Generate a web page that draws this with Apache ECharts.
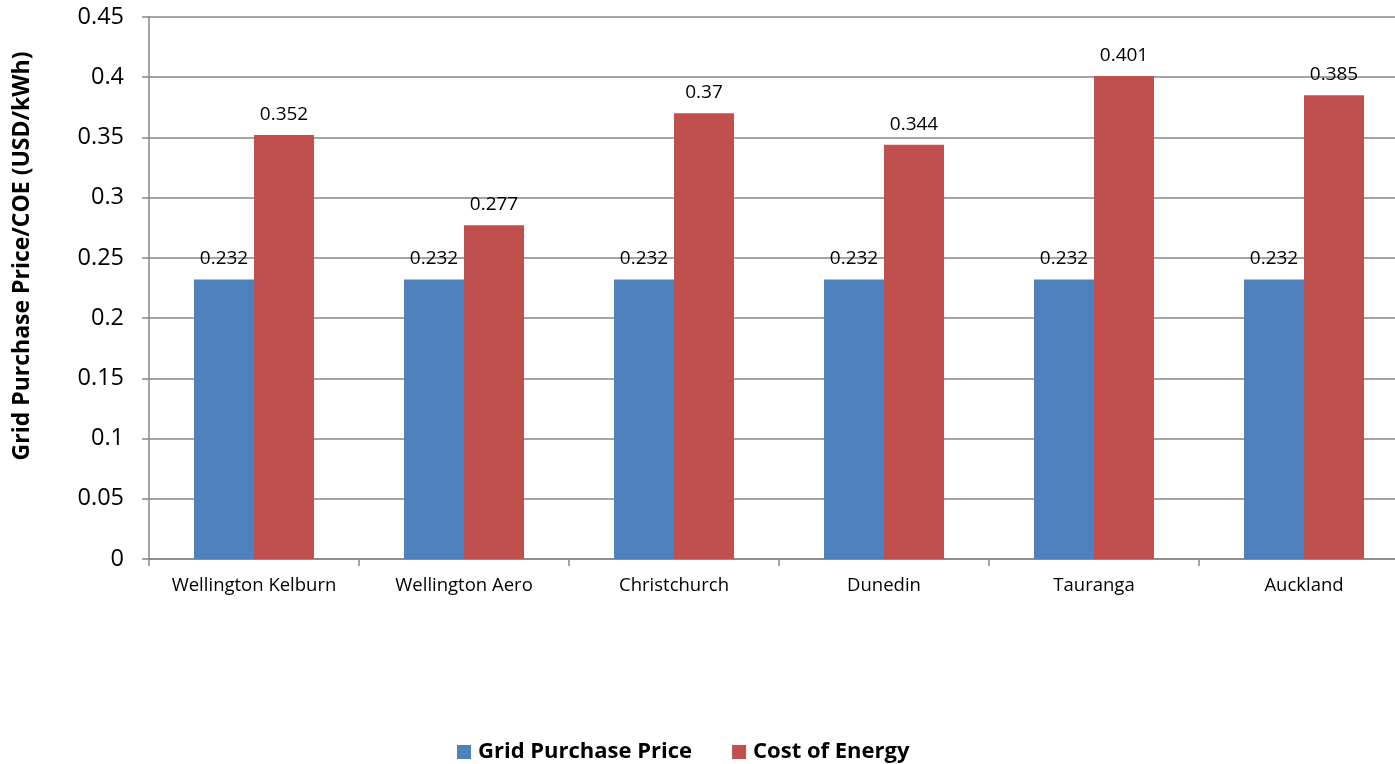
<!DOCTYPE html>
<html>
<head>
<meta charset="utf-8">
<script src="https://cdn.jsdelivr.net/npm/echarts@6/dist/echarts.min.js"></script>
<style>
html,body{margin:0;padding:0;background:#fff;}
#main{width:1395px;height:764px;}
</style>
</head>
<body>
<div id="main"></div>
<script>
var categories = ['Wellington Kelburn', 'Wellington Aero', 'Christchurch', 'Dunedin', 'Tauranga', 'Auckland'];
var gridPrice = [0.232, 0.232, 0.232, 0.232, 0.232, 0.232];
var costOfEnergy = [0.352, 0.277, 0.37, 0.344, 0.401, 0.385];
var seriesNames = ['Grid Purchase Price', 'Cost of Energy'];
var yTitle = 'Grid Purchase Price/COE (USD/kWh)';

var font = "'Open Sans', 'Liberation Sans', sans-serif";
var myChart = echarts.init(document.getElementById('main'));

var option = {
    animation: false,
    textStyle: { fontFamily: font },
    grid: { left: 149, top: 17, width: 1260, height: 542, containLabel: false, outerBoundsMode: 'none' },
    legend: {
        bottom: -4,
        left: 452,
        itemWidth: 14,
        itemHeight: 14,
        itemGap: 40,
        icon: 'rect',
        data: seriesNames,
        textStyle: { fontSize: 22, fontWeight: 'bold', color: '#000', fontFamily: font, padding: [0, 0, 0, 2] }
    },
    graphic: [{
        type: 'text',
        x: 22,
        y: 256,
        rotation: Math.PI / 2,
        style: {
            text: yTitle,
            fontSize: 23,
            fontWeight: 'bold',
            fontFamily: font,
            fill: '#000',
            textAlign: 'center',
            textVerticalAlign: 'middle'
        }
    }],
    xAxis: {
        type: 'category',
        data: categories,
        axisLine: { lineStyle: { color: '#868686', width: 1.5 } },
        axisTick: { show: true, interval: 0, length: 7, lineStyle: { color: '#868686', width: 1.5 } },
        axisLabel: { interval: 0, fontSize: 18.5, color: '#000', margin: 17, fontFamily: font }
    },
    yAxis: {
        type: 'value',
        min: 0,
        max: 0.45,
        interval: 0.05,
        axisLine: { show: true, lineStyle: { color: '#868686', width: 1.5 } },
        axisTick: { show: true, length: 7, lineStyle: { color: '#868686', width: 1.5 } },
        splitLine: { lineStyle: { color: '#868686', width: 1.5 } },
        axisLabel: {
            fontSize: 23.5, color: '#000', margin: 25, fontFamily: font,
            formatter: function (v) { return String(+v.toFixed(2)); }
        }
    },
    series: [
        {
            name: seriesNames[0],
            type: 'bar',
            data: gridPrice,
            barWidth: 60,
            barGap: '0%',
            itemStyle: { color: '#4F81BD' },
            label: { show: true, position: 'top', distance: 11, fontSize: 19, color: '#000', fontFamily: font }
        },
        {
            name: seriesNames[1],
            type: 'bar',
            data: costOfEnergy,
            barWidth: 60,
            barGap: '0%',
            itemStyle: { color: '#C0504D' },
            label: { show: true, position: 'top', distance: 11, fontSize: 19, color: '#000', fontFamily: font }
        }
    ]
};

myChart.setOption(option);
</script>
</body>
</html>
